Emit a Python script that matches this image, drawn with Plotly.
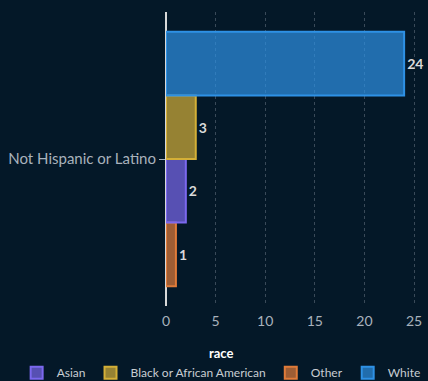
import plotly.graph_objects as go

category = ["Not Hispanic or Latino"]
races = ["Other", "Asian", "Black or African American", "White"]
counts = [1, 2, 3, 24]
legend_rank = [3, 1, 2, 4]
colors = ["#E07B39", "#7B68EE", "#D4AF37", "#2E91E5"]

bg = "#041828"

def rgba(h, a):
    h = h.lstrip("#")
    r, g, b = int(h[0:2], 16), int(h[2:4], 16), int(h[4:6], 16)
    return f"rgba({r},{g},{b},{a})"

fig = go.Figure()
for race, cnt, rank, col in zip(races, counts, legend_rank, colors):
    fig.add_trace(go.Bar(
        y=category, x=[cnt], name=race, orientation="h",
        marker=dict(color=rgba(col, 0.7), line=dict(color=col, width=2)),
        text=[cnt], textposition="outside", cliponaxis=False,
        textfont=dict(color="#DADADA", size=14, family="Lato", weight="bold"),
        legendrank=rank,
    ))

fig.update_layout(
    width=428, height=381,
    paper_bgcolor=bg, plot_bgcolor=bg,
    font=dict(family="Lato", color="#A9B2BC", size=13),
    barmode="group", bargap=0.135, bargroupgap=0,
    margin=dict(l=166, r=8, t=12, b=75, autoexpand=False),
    showlegend=True,
    legend=dict(
        orientation="h", xref="paper", yref="paper",
        x=-0.588, xanchor="left", y=-0.12, yanchor="top",
        title=dict(text="<b>race</b>", side="top center",
                   font=dict(color="#FFFFFF", size=13)),
        font=dict(color="#C8CDD2", size=12),
        itemwidth=30, tracegroupgap=0,
        bgcolor="rgba(0,0,0,0)",
    ),
    xaxis=dict(
        range=[0, 25.6], tickvals=[0, 5, 10, 15, 20, 25],
        showgrid=True, gridcolor="rgba(160,170,180,0.35)", griddash="dot",
        zeroline=True, zerolinecolor="#D8D8D8", zerolinewidth=2,
        showline=False, tickfont=dict(color="#A9B2BC", size=14),
        ticklabelstandoff=5,
    ),
    yaxis=dict(
        showgrid=False, ticks="outside", ticklen=6, tickcolor="#A9B2BC",
        tickfont=dict(color="#A9B2BC", size=15),
    ),
)

fig.write_html("out.html")
